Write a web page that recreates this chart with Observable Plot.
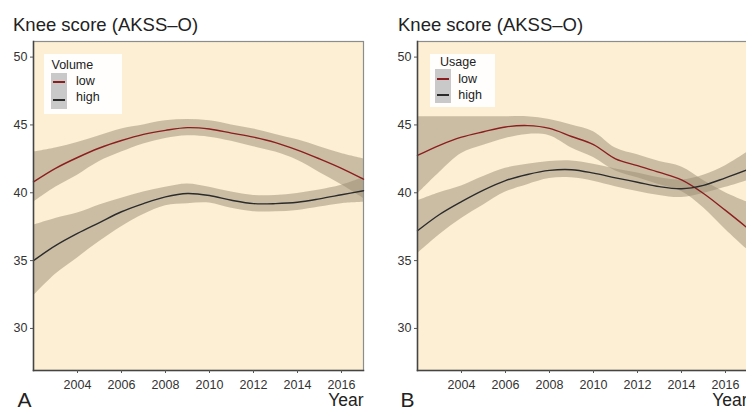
<!DOCTYPE html>
<html>
<head>
<meta charset="utf-8">
<script src="https://cdn.jsdelivr.net/npm/d3@7"></script>
<script src="https://cdn.jsdelivr.net/npm/@observablehq/plot@0.6"></script>
<style>
  html, body { margin: 0; padding: 0; background: #fff; }
  body { width: 746px; height: 408px; overflow: hidden; position: relative; font-family: "Liberation Sans", Arial, sans-serif; }
  .panel { position: absolute; top: 0; height: 408px; }
  .title { position: absolute; top: 16px; font-size: 18.5px; line-height: 1; color: #222; white-space: nowrap; }
  .plotwrap { position: absolute; top: 38px; left: 0; }
  .legend { position: absolute; background: rgba(255,255,255,0.93); }
  .legend .lt, .legend .lab { position: absolute; font-size: 12.5px; line-height: 1; color: #222; white-space: nowrap; }
  .legend .key { position: absolute; width: 16px; background: #c9c9c9; }
  .legend .kl { position: absolute; height: 2px; width: 12px; }
</style>
</head>
<body>
<div id="pA" class="panel" style="left:0;width:373px"></div>
<div id="pB" class="panel" style="left:373px;width:375px"></div>
<script>
// ---- data ----
const years = [2002,2003,2004,2005,2006,2007,2008,2009,2010,2011,2012,2013,2014,2015,2016,2017];
const groups = ["low", "high"];
const xTicks = [2004, 2006, 2008, 2010, 2012, 2014, 2016];
const yTicks = [30, 35, 40, 45, 50];
const titleText = "Knee score (AKSS–O)";
const xLabel = "Year";

// Panel A: Volume
const volLowFit  = [40.8, 41.8, 42.6, 43.3, 43.85, 44.3, 44.6, 44.8, 44.7, 44.4, 44.1, 43.7, 43.15, 42.5, 41.8, 41.0];
const volLowLo   = [39.3, 40.4, 41.3, 42.3, 43.0, 43.6, 44.0, 44.2, 44.1, 43.8, 43.4, 43.0, 42.4, 41.5, 40.6, 39.6];
const volLowHi   = [43.0, 43.3, 43.7, 44.2, 44.7, 45.0, 45.3, 45.4, 45.3, 45.0, 44.7, 44.3, 43.9, 43.4, 42.9, 42.5];
const volHighFit = [35.0, 36.1, 37.0, 37.8, 38.6, 39.2, 39.7, 39.95, 39.8, 39.45, 39.2, 39.2, 39.3, 39.55, 39.85, 40.15];
const volHighLo  = [32.4, 34.0, 35.2, 36.4, 37.5, 38.4, 39.05, 39.2, 39.25, 38.85, 38.6, 38.6, 38.7, 38.95, 39.2, 39.3];
const volHighHi  = [37.6, 38.1, 38.5, 39.1, 39.6, 40.05, 40.4, 40.65, 40.4, 40.05, 39.8, 39.8, 39.95, 40.2, 40.55, 41.1];

// Panel B: Usage
const useLowFit  = [42.75, 43.5, 44.1, 44.5, 44.85, 44.95, 44.75, 44.15, 43.55, 42.5, 42.0, 41.5, 40.95, 39.95, 38.7, 37.4];
const useLowLo   = [39.9, 41.5, 42.9, 43.5, 44.0, 44.3, 44.2, 43.3, 42.6, 41.6, 41.1, 40.6, 40.1, 38.9, 37.3, 35.8];
const useLowHi   = [45.6, 45.6, 45.6, 45.6, 45.6, 45.6, 45.4, 45.0, 44.5, 43.3, 42.8, 42.3, 41.9, 40.9, 40.0, 39.3];
const useHighFit = [37.2, 38.4, 39.35, 40.2, 40.9, 41.35, 41.65, 41.7, 41.45, 41.1, 40.78, 40.45, 40.3, 40.55, 41.1, 41.7];
const useHighLo  = [35.5, 36.9, 38.1, 39.1, 40.05, 40.6, 41.05, 41.1, 40.85, 40.45, 40.1, 39.8, 39.65, 39.95, 40.4, 40.9];
const useHighHi  = [39.4, 40.0, 40.5, 41.2, 41.8, 42.1, 42.3, 42.35, 42.1, 41.75, 41.45, 41.1, 40.95, 41.3, 42.0, 43.0];

// ---- style ----
const cream = "#fcefd3";
const lineColors = ["#8b1e1e", "#2b2b2b"];
const bandFill = "#9a8c74";

function rows(lowFit, lowLo, lowHi, highFit, highLo, highHi) {
  const out = [];
  years.forEach((yr, i) => out.push({year: yr, group: "low", fit: lowFit[i], lo: lowLo[i], hi: lowHi[i]}));
  years.forEach((yr, i) => out.push({year: yr, group: "high", fit: highFit[i], lo: highLo[i], hi: highHi[i]}));
  return out;
}

function makePanel(id, data, letter, legendTitle, cfg) {
  const el = document.getElementById(id);
  const t = document.createElement("div");
  t.className = "title";
  t.style.left = cfg.titleLeft + "px";
  t.textContent = titleText;
  el.appendChild(t);

  const chart = Plot.plot({
    width: cfg.width,
    height: 370,
    marginTop: 3,
    marginBottom: 38,
    marginLeft: cfg.marginLeft,
    marginRight: cfg.marginRight,
    x: {domain: [2002, 2017]},
    y: {domain: [26.9, 51.15]},
    color: {domain: groups, range: lineColors},
    style: {fontFamily: "'Liberation Sans', Arial, sans-serif", fontSize: "12.5px", color: "#333", background: "transparent", overflow: "visible"},
    marks: [
      Plot.frame({fill: cream, stroke: "#8c8c8c", strokeWidth: 1.2}),
      Plot.areaY(data, {x: "year", y1: "lo", y2: "hi", z: "group", fill: bandFill, fillOpacity: 0.5, curve: "catmull-rom"}),
      Plot.line(data, {x: "year", y: "fit", z: "group", stroke: "group", strokeWidth: 1.4, curve: "catmull-rom"}),
      Plot.frame({anchor: "left", stroke: "#444", strokeWidth: 1.5}),
      Plot.frame({anchor: "bottom", stroke: "#444", strokeWidth: 1.5}),
      Plot.axisX({ticks: xTicks, tickFormat: "d", tickSize: 3, tickPadding: 7, label: null, stroke: "#555"}),
      Plot.axisY({ticks: yTicks, tickSize: 3, tickPadding: 3, label: null, stroke: "#555"}),
      Plot.text([xLabel], {text: d => d, frameAnchor: "bottom-right", dy: 35.5, lineAnchor: "bottom", textAnchor: "end", fontSize: 17.5, fill: "#222"}),
      Plot.text([letter], {text: d => d, frameAnchor: "bottom-left", dx: cfg.letterDx, dy: 36, lineAnchor: "bottom", textAnchor: "start", fontSize: 21, fill: "#222"})
    ]
  });
  const wrap = document.createElement("div");
  wrap.className = "plotwrap";
  wrap.appendChild(chart);
  el.appendChild(wrap);

  // legend
  const L = cfg.legend;
  const lg = document.createElement("div");
  lg.className = "legend";
  Object.assign(lg.style, {left: L.left + "px", top: L.top + "px", width: L.w + "px", height: L.h + "px"});
  const lt = document.createElement("div");
  lt.className = "lt"; lt.textContent = legendTitle;
  Object.assign(lt.style, {left: L.titleX + "px", top: L.titleY + "px"});
  lg.appendChild(lt);
  const key = document.createElement("div");
  key.className = "key";
  Object.assign(key.style, {left: L.keyX + "px", top: L.keyY + "px", height: L.keyH + "px"});
  lg.appendChild(key);
  groups.forEach((g, i) => {
    const kl = document.createElement("div");
    kl.className = "kl";
    Object.assign(kl.style, {left: (L.keyX + 2) + "px", top: L.lineY[i] + "px", background: lineColors[i]});
    lg.appendChild(kl);
    const lab = document.createElement("div");
    lab.className = "lab"; lab.textContent = g;
    Object.assign(lab.style, {left: L.labX + "px", top: L.labY[i] + "px"});
    lg.appendChild(lab);
  });
  el.appendChild(lg);
}

makePanel("pA", rows(volLowFit, volLowLo, volLowHi, volHighFit, volHighLo, volHighHi), "A", "Volume", {
  width: 373, marginLeft: 33, marginRight: 10, titleLeft: 13, letterDx: -16,
  legend: {left: 43.5, top: 53.5, w: 78, h: 60, titleX: 8, titleY: 5.5, keyX: 7, keyY: 19, keyH: 36,
           lineY: [27.5, 45], labX: 32.5, labY: [21, 37.8]}
});
makePanel("pB", rows(useLowFit, useLowLo, useLowHi, useHighFit, useHighLo, useHighHi), "B", "Usage", {
  width: 375, marginLeft: 44, marginRight: 1, titleLeft: 25, letterDx: -17,
  legend: {left: 57, top: 54, w: 65, h: 53, titleX: 10, titleY: 1.8, keyX: 4.5, keyY: 15, keyH: 34,
           lineY: [23.5, 39.5], labX: 28.3, labY: [18.5, 35]}
});
</script>
</body>
</html>
